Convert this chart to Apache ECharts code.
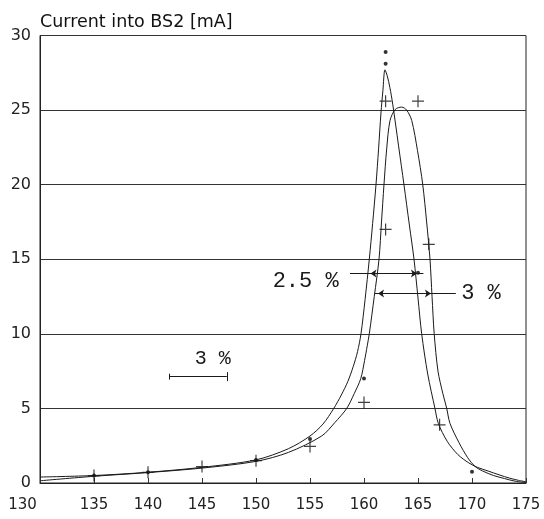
<!DOCTYPE html>
<html>
<head>
<meta charset="utf-8">
<script src="https://cdn.jsdelivr.net/npm/echarts@6/dist/echarts.min.js"></script>
<style>
html, body { margin: 0; padding: 0; background: #fff; }
#main { width: 544px; height: 519px; }
</style>
</head>
<body>
<div id="main"></div>
<script>
// axes
var energyMin = 130, energyMax = 175, energyStep = 5;
var currentMin = 0, currentMax = 30, currentStep = 5;
var yTitle = 'Current into BS2 [mA]';

// fitted curves, [energy, current]
var curveA = [
    [130, 0.4], [135, 0.5], [140, 0.72], [145, 1.05], [150, 1.55], [153, 2.3],
    [155, 3.15], [156.2, 3.95], [157.2, 5.0], [157.9, 5.9], [158.5, 6.8], [159.0, 7.8],
    [159.4, 8.8], [159.72, 10], [160.1, 12.3], [160.49, 15], [160.8, 17.4], [161.11, 20],
    [161.35, 22.4], [161.57, 24.8], [161.75, 26.3], [161.94, 27.7], [162.15, 27.3],
    [162.4, 26.5], [162.66, 25.4], [163.2, 22.6], [163.7, 20], [164.2, 17.3],
    [164.63, 15], [165.0, 12.4], [165.34, 10], [165.9, 7.3], [166.57, 5.0],
    [166.88, 4.0], [167.7, 2.8], [168.7, 1.9], [169.7, 1.35], [170.5, 1.05],
    [171.5, 0.8], [172.5, 0.55], [173.5, 0.32], [174.3, 0.18], [175, 0.08]
];
var curveB = [
    [130, 0.15], [135, 0.45], [140, 0.7], [145, 1.0], [150, 1.45], [153, 2.05],
    [156.08, 3.15], [157.3, 4.05], [158.4, 5.0], [159.1, 6.0], [159.7, 7.0],
    [160.05, 8.2], [160.3, 9.2], [160.49, 10], [160.95, 12.5], [161.39, 15], [161.62, 17.5],
    [161.85, 20], [162.1, 22.4], [162.41, 24.3], [162.9, 25.05], [163.49, 25.2],
    [163.95, 25.0], [164.42, 24.3], [164.95, 22.3], [165.44, 20], [165.8, 17.5],
    [166.11, 15], [166.3, 12.5], [166.5, 10], [166.85, 7.5], [167.3, 6.0],
    [167.66, 5.0], [167.96, 4.0], [168.8, 2.7], [169.6, 1.7], [170.3, 1.1],
    [171, 0.8], [172, 0.5], [173, 0.3], [174, 0.12], [175, 0.03]
];

// measured points
var dotEnergy = [135, 140, 150, 155, 160, 162, 162, 165, 170];
var dotCurrent = [0.5, 0.72, 1.55, 2.95, 7.0, 28.1, 28.9, 14.1, 0.75];
var plusEnergy = [135, 140, 145, 150, 155, 160, 162, 162, 165, 166, 167];
var plusCurrent = [0.5, 0.72, 1.1, 1.5, 2.45, 5.4, 17.0, 25.6, 25.6, 16.0, 3.9];

// width markers: [line start, arrow tip left, arrow tip right, line end], height
var widthNarrow = [158.7, 160.6, 164.9, 165.5];
var widthNarrowY = 14.05;
var widthWide = [161.0, 161.3, 166.2, 168.5];
var widthWideY = 12.7;
var scaleBar = [142.0, 147.3];
var scaleBarY = 7.13;
var percentLabels = ['2.5 %', '3 %', '3 %'];

function zip(xs, ys) {
    var out = [];
    for (var i = 0; i < xs.length; i++) {
        out.push([xs[i], ys[i]]);
    }
    return out;
}

var ink = '#1a1a1a';
var plusPath = 'path://M0,4.5H10V5.5H0ZM4.5,0H5.5V10H4.5Z';
var sans = '"DejaVu Sans", "Liberation Sans", sans-serif';
var mono = '"Liberation Mono", "DejaVu Sans Mono", monospace';

function hLine(x1, x2, y, sym) {
    return [
        { coord: [x1, y], symbol: sym || 'none' },
        { coord: [x2, y], symbol: sym || 'none' }
    ];
}

function vTick(x, y, half) {
    return [
        { coord: [x, y - half], symbol: 'none' },
        { coord: [x, y + half], symbol: 'none' }
    ];
}

function textPoint(x, y, text, size, pos) {
    return {
        coord: [x, y],
        label: {
            show: true,
            formatter: text,
            position: pos,
            distance: 0,
            fontFamily: mono,
            fontSize: size,
            color: ink
        }
    };
}

function getOption() {
    var arrowLines = [
        hLine(widthNarrow[0], widthNarrow[3], widthNarrowY),
        hLine(widthNarrow[1], widthNarrow[2], widthNarrowY, 'arrow'),
        hLine(widthWide[0], widthWide[3], widthWideY),
        hLine(widthWide[1], widthWide[2], widthWideY, 'arrow'),
        hLine(scaleBar[0], scaleBar[1], scaleBarY),
        vTick(scaleBar[0], scaleBarY, 0.2),
        vTick(scaleBar[1], scaleBarY, 0.3)
    ];
    return {
        backgroundColor: '#fff',
        animation: false,
        title: {
            text: yTitle,
            left: 35,
            top: 8,
            textStyle: {
                fontFamily: sans,
                fontSize: 17.5,
                fontWeight: 'normal',
                color: '#111'
            }
        },
        grid: {
            left: 40,
            right: 18,
            top: 35.5,
            bottom: 36,
            show: true,
            borderColor: '#222',
            borderWidth: 1
        },
        xAxis: {
            type: 'value',
            min: energyMin,
            max: energyMax,
            interval: energyStep,
            axisLine: { show: true, lineStyle: { color: '#222' } },
            axisTick: { show: true, inside: true, length: 5, lineStyle: { color: '#333' } },
            splitLine: { show: false },
            axisLabel: {
                fontFamily: sans,
                fontSize: 15,
                color: '#222',
                margin: 15,
                formatter: function (v) {
                    return v === energyMin ? '{first|' + v + '}' : String(v);
                },
                rich: {
                    first: { fontFamily: sans, fontSize: 15, color: '#222', padding: [0, 35, 0, 0] }
                }
            }
        },
        yAxis: {
            type: 'value',
            min: currentMin,
            max: currentMax,
            interval: currentStep,
            axisLine: { show: true, lineStyle: { color: '#222' } },
            axisTick: { show: false },
            splitLine: { show: true, lineStyle: { color: '#333', width: 1 } },
            axisLabel: {
                fontFamily: sans,
                fontSize: 16,
                color: '#222',
                margin: 9
            }
        },
        series: [
            {
                name: 'curveA',
                type: 'line',
                data: curveA,
                smooth: 0.3,
                showSymbol: false,
                lineStyle: { color: ink, width: 1 }
            },
            {
                name: 'curveB',
                type: 'line',
                data: curveB,
                smooth: 0.3,
                showSymbol: false,
                lineStyle: { color: ink, width: 1 }
            },
            {
                name: 'dots',
                type: 'scatter',
                data: zip(dotEnergy, dotCurrent),
                symbol: 'circle',
                symbolSize: 4,
                itemStyle: { color: '#000' },
                markLine: {
                    silent: true,
                    symbolSize: 6,
                    lineStyle: { color: ink, width: 1, type: 'solid' },
                    label: { show: false },
                    data: arrowLines
                },
                markPoint: {
                    silent: true,
                    symbol: 'circle',
                    symbolSize: 1,
                    itemStyle: { color: 'rgba(0,0,0,0)' },
                    data: [
                        textPoint(widthNarrow[0] - 1.0, widthNarrowY - 0.5, percentLabels[0], 22, 'left'),
                        textPoint(widthWide[3] + 0.45, widthWideY, percentLabels[1], 22, 'right'),
                        textPoint(146.0, 8.3, percentLabels[2], 20, 'inside')
                    ]
                }
            },
            {
                name: 'plus',
                type: 'scatter',
                data: zip(plusEnergy, plusCurrent),
                symbol: plusPath,
                symbolSize: 12,
                itemStyle: { color: '#111' }
            }
        ]
    };
}

var chart = echarts.init(document.getElementById('main'), null, { renderer: 'canvas' });
chart.setOption(getOption());
</script>
</body>
</html>
